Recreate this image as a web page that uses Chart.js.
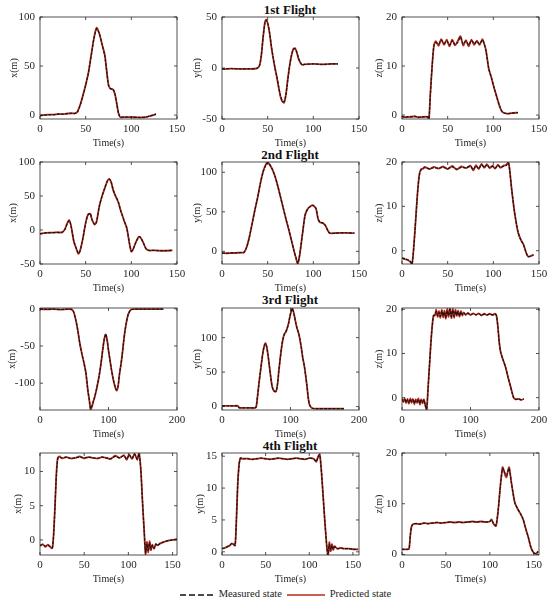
<!DOCTYPE html>
<html>
<head>
<meta charset="utf-8">
<script src="https://cdn.jsdelivr.net/npm/chart.js@4.4.0/dist/chart.umd.min.js"></script>
<style>
  body { margin: 0; background: #fff; }
  #wrap { position: relative; width: 550px; height: 604px; font-family: 'Liberation Serif', serif; color: #111; }
  .panel { position: absolute; width: 187px; height: 142px; }
  .ttl { position: absolute; left: 230px; width: 120px; text-align: center; font-size: 13px; font-weight: bold; }
  .leg { position: absolute; top: 588px; font-size: 10.5px; color: #222; white-space: nowrap; }
  .leg svg { vertical-align: middle; }
</style>
</head>
<body>
<div id="wrap">
  <div class="ttl" style="top:2px">1st Flight</div>
  <div class="ttl" style="top:147px">2nd Flight</div>
  <div class="ttl" style="top:292px">3rd Flight</div>
  <div class="ttl" style="top:438px">4th Flight</div>
  <div class="leg" style="left:180px">
    <svg width="36" height="6"><line x1="0" y1="3" x2="34" y2="3" stroke="#111" stroke-width="1.3" stroke-dasharray="6,3"/></svg>
    Measured state
  </div>
  <div class="leg" style="left:287px">
    <svg width="40" height="6"><line x1="0" y1="3" x2="38" y2="3" stroke="#b8281a" stroke-width="1.5"/></svg>
    Predicted state
  </div>
</div>
<script>
// tick labels
const ticksT150 = [0, 50, 100, 150];
const ticksT200 = [0, 100, 200];

// 1st flight
const f1xT = [0,5,10,15,20,25,30,35,38,41,44,47,50,53,56,59,62,65,68,71,73,75,77,80,82,84,86,88,92,100,110,116,120,124,127];
const f1xMeas = [-0.5,0,0.3,0.5,1,1,1.5,2,1.5,3,10,20,30,43,60,78,88,83,72,60,45,30,27,26.5,22,12,2,-2,-2,-2,-2.5,-2,-1,0,1];
const f1xPred = [-0.6,0.1,0.4,0.4,1.1,0.9,1.6,1.8,1.7,3.5,10.5,20,31,43,61,78,89,83,72,61,45,31,27,26,21.5,12,1.5,-2.2,-2,-2.1,-2.4,-2,-1.1,0,1];
const f1yT = [0,10,20,30,38,41,43,45,47,48.5,50,52,54,56,58,60,62,64,66,68,70,72,74,76,78,80,82,84,86,88,90,100,110,120,127];
const f1yMeas = [-1,-0.5,-1,-0.8,-0.5,2,12,30,44,47,44,35,22,10,0,-8,-18,-27,-32,-33,-26,-12,2,12,18,19,15,9,5,3,3.5,4,3.5,4,4];
const f1yPred = [-1.2,-0.6,-0.9,-0.9,-0.4,2.5,12,30,45,47.5,44,35,21,10,0,-9,-19,-28,-33,-34,-26,-11,2,12,18.5,19.5,15,8.5,5,3,3.6,4,3.6,4,4];
const f1zT = [0,3,6,10,14,18,22,26,28,29.5,31,33,35,37,40,43,46,49,52,55,58,61,64,67,70,73,76,79,82,85,88,90,92,95,98,101,104,107,110,115,120,127];
const f1zMeas = [-0.2,-0.5,-0.3,-0.4,-0.2,-0.5,-0.3,-0.4,-0.3,-0.7,4,10,14.3,14.8,14.5,15.3,14.6,15.1,14.3,15.2,14.4,14.8,15.9,14.5,15.1,14.3,15.2,14.6,15.0,14.5,15.3,14.6,13,9.5,7.5,5.5,3.5,1.8,0.6,0.3,0.4,0.5];
const f1zPred = [-0.3,-0.4,-0.4,-0.3,-0.3,-0.4,-0.4,-0.3,-0.4,-0.8,4.2,10,14.2,15.1,14.1,15.5,14.3,15.4,14.0,15.4,14.2,15.1,16.1,14.2,15.3,14.0,15.4,14.3,15.2,14.3,15.5,14.5,13.2,9.4,7.6,5.4,3.6,1.7,0.6,0.3,0.4,0.5];

// 2nd flight
const f2xT = [0,3,7,12,18,24,27,30,32,34,37,40,42,44,47,50,52.5,55,57,60,62,65,68,71,74,76,78,80,82,84,86,88,90,92,95,98,100,102,105,108,110,113,116,119,125,135,145];
const f2xMeas = [-5.4,-5,-4,-4,-3.5,-3.5,0,10,14,6,-16,-28,-34,-30,-12,10,22,24,15,8,12,35,50,62,72,75,70,60,52,47,40,30,22,14,3,-20,-31,-28,-18,-10,-11,-18,-27,-30,-30,-30.5,-30];
const f2xPred = [-5.6,-5,-4.2,-4,-3.6,-3.4,0.5,10.5,14.5,6,-16.5,-28.5,-35,-30,-12,10.5,22.5,24,15,8,13,35.5,50,62,73,75,70,59,52,46,40,30,22,14,3,-20.5,-32,-28,-18,-10,-11,-18.5,-27.5,-30,-30,-30.5,-30];
const f2yT = [0,5,10,15,20,24,27,30,33,36,39,42,45,48,50,52,55,58,61,64,67,70,73,76,79,81,83,85,88,91,94,97,99,101,103,105,107,110,113,116,118,125,135,145];
const f2yMeas = [-2,-2.5,-2,-2,-1.5,-1.5,5,18,35,52,68,86,100,109,112,110,104,95,83,69,55,41,28,14,0,-8,-15,-5,21,46,54,57,58,57,54,42,37,36,33,26,23,23,23.5,23];
const f2yPred = [-2.2,-2.4,-2.1,-2,-1.6,-1.4,5.5,18.5,35,52.5,68,86,101,110,112.5,110,104,95,83,69,55,41,28,14,0,-8.5,-15.5,-5,21,46,54,57,58.5,57,54,42,37,36,33,26,23,23.2,23.4,23];
const f2zT = [0,3,6,9,11,13,15,17,19,21,23,25,30,35,40,45,50,55,60,65,70,75,78,81,84,87,90,93,96,99,102,105,108,111,114,116.5,118,120,123,127,130,133,136,138,141,144];
const f2zMeas = [-1.7,-1.8,-2,-2.4,-3,1,7,13,17,18.3,18.6,18.7,18.5,18.7,18.6,18.8,18.5,18.9,18.4,18.8,18.7,19.0,18.3,19.1,18.5,19.4,18.8,19.3,18.7,19.0,18.6,19.2,18.8,19.0,19.2,19.8,18,14,9,4.2,2.5,1.4,-0.5,-1.3,-1.2,-0.9];
const f2zPred = [-1.6,-1.9,-2.1,-2.5,-3,1.2,7,13,17.2,18.4,18.5,18.9,18.4,18.9,18.5,19.0,18.4,19.1,18.3,19.0,18.6,19.2,18.1,19.3,18.4,19.6,18.7,19.5,18.6,19.2,18.5,19.4,18.7,19.2,19.3,19.9,18,14,9,4.2,2.5,1.4,-0.5,-1.3,-1.2,-0.9];

// 3rd flight
const f3xT = [0,10,20,30,40,46,49,52,55,58,61,64,67,70,72,74,76,78,80,83,86,89,92,94,96,98,100,102,104,107,110,112,114,116,118,120,122,124,126,128,130,133,140,160,180];
const f3xMeas = [-0.5,-0.8,-0.5,-1,-0.6,-0.8,-4,-14,-28,-46,-60,-72,-86,-110,-122,-134,-130,-124,-118,-106,-92,-74,-52,-40,-34,-42,-56,-68,-80,-95,-106,-109,-104,-88,-76,-62,-45,-30,-19,-10,-5,-1,-0.5,-0.5,-0.5];
const f3xPred = [-0.6,-0.7,-0.6,-1.1,-0.5,-0.8,-4,-14,-28,-46,-60,-72,-86,-111,-123,-136,-131,-124,-118,-106,-92,-74,-52,-40,-34.5,-42,-56,-68,-80,-95,-106,-110,-104,-88,-76,-62,-45,-30,-19,-10,-5,-1,-0.6,-0.5,-0.5];
const f3yT = [0,8,16,23,25,30,40,48,50,52,54,56,58,60,62,63.5,65,67,69,71,73,75,77,79,81,83,85,87,89,91,93,95,97,99,101,102.5,104,106,108,110,112,114,116,118,120,122,124,126,128,132,140,160,178];
const f3yMeas = [1,1.2,0.8,1,-1.5,-2,-1.8,-2,0,16,34,50,66,80,89,91,88,76,60,44,30,24,22,22,32,52,70,86,98,105,108,113,120,130,138,142,139,130,120,112,106,96,84,70,60,46,30,12,2,-2.5,-3,-3,-3];
const f3yPred = [1.1,1.1,0.9,1,-1.6,-2,-1.9,-2,0,16,34,50,66,80,89,92,88,76,60,44,30,24,22,22,32,52,70,86,98,105,108,113,120,130,138,142.5,139,130,120,112,106,96,84,70,60,46,30,12,2,-2.5,-3,-3,-3];
const f3zT = [0,2,4,6,8,10,12,14,16,18,20,22,24,26,28,30,32,34,36,38,40,42,44,46,48,50,52,54,56,58,60,62,64,66,68,70,72,74,76,78,80,82,84,86,88,90,93,96,100,104,108,112,116,120,124,128,132,136,138,140,142,144,147,151,155,158.5,161,163,166,170,174,178];
const f3zMeas = [-0.3,-0.8,-0.4,-1.0,-0.5,-1.1,-0.4,-0.9,-0.5,-1.2,-0.6,-0.9,-0.4,-1.3,-0.6,-1.0,-0.5,-1.6,-2.6,2,7,12,16,18.5,18.8,19.5,18.6,19.3,18.4,19.6,18.5,19.4,18.2,19.7,18.6,20,18.3,19.8,18.4,19.6,18.7,19.5,18.5,19.4,18.8,19.2,18.8,19.1,18.8,19.0,18.8,19.0,18.7,18.9,18.8,18.9,18.8,18.9,18.5,16,12.5,10.3,8.8,7,4.5,2.5,1,0,-0.4,-0.3,-0.5,-0.3];
const f3zPred = [-0.2,-1.0,-0.2,-1.3,-0.3,-1.4,-0.2,-1.2,-0.3,-1.5,-0.4,-1.2,-0.2,-1.6,-0.4,-1.3,-0.4,-1.8,-2.7,2,7,12,16,18.6,18.6,19.9,18.3,19.6,18.1,19.9,18.2,19.7,17.9,20.1,18.3,20.3,18.0,20.1,18.1,19.9,18.5,19.7,18.3,19.6,18.6,19.3,18.7,19.2,18.7,19.1,18.7,19.1,18.6,19.0,18.7,19.0,18.7,19.0,18.5,16,12.5,10.3,8.8,7,4.5,2.5,1,0,-0.4,-0.3,-0.5,-0.3];

// 4th flight
const f4xT = [0,3,6,9,12,14,15.5,17,18.5,20,22,25,30,35,40,45,50,55,60,65,70,75,80,85,90,95,98,101,104,107,110,112,114,116,118,119.5,121,122.5,124,125.5,127,129,131,133,136,140,145,150,155];
const f4xMeas = [-0.8,-0.7,-0.9,-0.8,-1.0,-1.1,1,5,9.5,11.8,12.1,12.0,12.1,11.9,12.0,12.1,12.0,12.1,12.0,11.9,12.1,12.0,11.9,12.2,12.0,12.3,11.8,12.4,11.9,12.5,11.8,12.6,10.4,5.5,1,-1.9,-0.6,-1.5,-0.4,-1.3,-0.8,-1.2,-0.6,-0.8,-0.5,-0.3,-0.1,0,0.1];
const f4xPred = [-0.9,-0.6,-1.0,-0.7,-1.1,-1.2,1,5,9.5,12,12.2,11.9,12.1,11.9,12.0,12.2,11.9,12.1,12.0,11.9,12.1,12.0,11.8,12.3,12.0,12.4,11.7,12.5,11.8,12.6,11.7,12.7,10.4,5.5,1,-2.2,-0.3,-1.8,-0.2,-1.5,-0.7,-1.3,-0.6,-0.8,-0.5,-0.3,-0.1,0,0.1];
const f4yT = [0,3,6,9,11,13,15,16.5,18,19.5,21,23,25,30,35,40,45,50,55,60,65,70,75,80,85,90,95,100,105,108,110,112,114,116,118,120,121.5,123,124.5,126,127.5,129,132,136,140,145,150,156];
const f4yMeas = [0.5,0.6,0.8,1.0,1.3,1.2,1.0,5,10.5,13.5,14.6,14.7,14.6,14.6,14.5,14.6,14.7,14.6,14.5,14.6,14.7,14.6,14.5,14.6,14.7,14.6,14.5,14.7,14.6,14.2,14.8,15.2,12.5,8.5,4.5,1,-0.5,1.2,0.3,1.0,0.4,0.8,0.5,0.6,0.5,0.5,0.4,0.4];
const f4yPred = [0.5,0.6,0.8,1.0,1.3,1.2,1.0,5,10.5,13.6,14.7,14.6,14.6,14.6,14.5,14.6,14.7,14.6,14.5,14.6,14.7,14.6,14.5,14.6,14.7,14.6,14.5,14.7,14.6,14.1,14.9,15.3,12.5,8.5,4.5,1,-0.7,1.5,0.1,1.2,0.3,0.9,0.5,0.6,0.5,0.5,0.4,0.4];
const f4zT = [0,3,6,8,9.5,11,13,16,20,25,30,35,40,45,50,55,60,65,70,75,80,85,90,95,100,102,104,107,109.6,112,114.5,116,117.5,119,120.5,122,124.7,128.5,132,135,138,141,143.5,147,150,153,155];
const f4zMeas = [1,1,1,1.1,3.8,5.6,6.0,6.1,6.0,6.2,6.1,6.2,6.3,6.2,6.3,6.4,6.3,6.4,6.3,6.4,6.5,6.4,6.5,6.4,6.5,6.8,6.2,5.7,8.9,13.5,17,16.5,16,15.6,16.3,17,14,10.2,8.9,8,6.9,5,3.6,1.3,0.3,0.2,0.6];
const f4zPred = [1,1,1,1.1,3.8,5.6,6.0,6.1,6.0,6.2,6.1,6.2,6.3,6.2,6.3,6.4,6.3,6.4,6.3,6.4,6.5,6.4,6.5,6.4,6.5,6.9,6.1,5.6,8.9,13.5,17.2,16.6,15.6,15.2,16.4,17.2,14,10.2,8.9,8,6.9,5,3.6,1.3,0.3,0.2,0.6];

// panel setup: data refs, axis ranges, placement
const colLeft = [40, 222, 402];
const rowTop = [17, 162, 308, 453];
const panels = [
  { r: 0, c: 0, t: f1xT, m: f1xMeas, p: f1xPred, lab: 'x(m)', xMax: 150, xt: ticksT150, yMin: -4, yMax: 100, yt: [0, 50, 100], lx: 8 },
  { r: 0, c: 1, t: f1yT, m: f1yMeas, p: f1yPred, lab: 'y(m)', xMax: 150, xt: ticksT150, yMin: -50, yMax: 50, yt: [-50, 0, 50], lx: 9 },
  { r: 0, c: 2, t: f1zT, m: f1zMeas, p: f1zPred, lab: 'z(m)', xMax: 150, xt: ticksT150, yMin: -0.8, yMax: 20, yt: [0, 10, 20], lx: 11 },
  { r: 1, c: 0, t: f2xT, m: f2xMeas, p: f2xPred, lab: 'x(m)', xMax: 150, xt: ticksT150, yMin: -50, yMax: 100, yt: [-50, 0, 50, 100], lx: 7 },
  { r: 1, c: 1, t: f2yT, m: f2yMeas, p: f2yPred, lab: 'y(m)', xMax: 150, xt: ticksT150, yMin: -16, yMax: 113, yt: [0, 50, 100], lx: 9 },
  { r: 1, c: 2, t: f2zT, m: f2zMeas, p: f2zPred, lab: 'z(m)', xMax: 150, xt: ticksT150, yMin: -3, yMax: 20, yt: [0, 10, 20], lx: 11 },
  { r: 2, c: 0, t: f3xT, m: f3xMeas, p: f3xPred, lab: 'x(m)', xMax: 200, xt: ticksT200, yMin: -136, yMax: 1, yt: [-100, -50, 0], lx: 6 },
  { r: 2, c: 1, t: f3yT, m: f3yMeas, p: f3yPred, lab: 'y(m)', xMax: 200, xt: ticksT200, yMin: -5, yMax: 143, yt: [0, 50, 100], lx: 9 },
  { r: 2, c: 2, t: f3zT, m: f3zMeas, p: f3zPred, lab: 'z(m)', xMax: 200, xt: ticksT200, yMin: -2.8, yMax: 20.3, yt: [0, 10, 20], lx: 11 },
  { r: 3, c: 0, t: f4xT, m: f4xMeas, p: f4xPred, lab: 'x(m)', xMax: 155, xt: ticksT150, yMin: -2.2, yMax: 12.7, yt: [0, 5, 10], lx: 12 },
  { r: 3, c: 1, t: f4yT, m: f4yMeas, p: f4yPred, lab: 'y(m)', xMax: 157, xt: ticksT150, yMin: -0.5, yMax: 15.5, yt: [0, 5, 10, 15], lx: 12 },
  { r: 3, c: 2, t: f4zT, m: f4zMeas, p: f4zPred, lab: 'z(m)', xMax: 156, xt: ticksT150, yMin: -0.1, yMax: 20, yt: [0, 10, 20], lx: 11 }
];

const ink = '#262626';
const tickFont = { family: "'Liberation Serif', serif", size: 11 };
const labFont = { family: "'Liberation Serif', serif", size: 10 };

// matlab-like box with inward ticks
const boxTicks = {
  id: 'boxTicks',
  afterDraw(chart) {
    const { ctx, chartArea: a, scales: { x, y } } = chart;
    ctx.save();
    ctx.strokeStyle = ink;
    ctx.lineWidth = 0.8;
    ctx.strokeRect(a.left, a.top, a.right - a.left, a.bottom - a.top);
    ctx.beginPath();
    x.ticks.forEach(t => {
      const px = x.getPixelForValue(t.value);
      ctx.moveTo(px, a.bottom); ctx.lineTo(px, a.bottom - 3);
      ctx.moveTo(px, a.top); ctx.lineTo(px, a.top + 3);
    });
    y.ticks.forEach(t => {
      const py = y.getPixelForValue(t.value);
      ctx.moveTo(a.left, py); ctx.lineTo(a.left + 3, py);
      ctx.moveTo(a.right, py); ctx.lineTo(a.right - 3, py);
    });
    ctx.stroke();
    ctx.restore();
  }
};

const wrap = document.getElementById('wrap');
panels.forEach(pn => {
  const div = document.createElement('div');
  div.className = 'panel';
  div.style.left = (colLeft[pn.c] - 40) + 'px';
  div.style.top = (rowTop[pn.r] - 8) + 'px';
  const cv = document.createElement('canvas');
  div.appendChild(cv);
  wrap.appendChild(div);

  new Chart(cv, {
    type: 'line',
    data: {
      datasets: [
        {
          label: 'Measured state',
          data: pn.t.map((v, i) => ({ x: v, y: pn.m[i] })),
          borderColor: '#151515',
          borderWidth: 1.2,
          borderDash: [3, 1.2],
          pointRadius: 0,
          tension: 0.25,
          order: 0
        },
        {
          label: 'Predicted state',
          data: pn.t.map((v, i) => ({ x: v, y: pn.p[i] })),
          borderColor: '#b8281a',
          borderWidth: 1.8,
          pointRadius: 0,
          tension: 0.25,
          order: 1
        }
      ]
    },
    options: {
      responsive: true,
      maintainAspectRatio: false,
      animation: false,
      layout: { padding: { top: 8, right: 10, left: 0, bottom: 0 } },
      plugins: { legend: { display: false }, tooltip: { enabled: false } },
      scales: {
        x: {
          type: 'linear',
          min: 0,
          max: pn.xMax,
          grid: { display: false, drawTicks: false },
          border: { display: false },
          ticks: { font: tickFont, color: ink, padding: 4, maxRotation: 0 },
          title: { display: true, text: 'Time(s)', font: labFont, color: ink, padding: { top: 0, bottom: 2 } },
          afterBuildTicks: s => { s.ticks = pn.xt.map(v => ({ value: v })); },
          afterFit: s => { s.height = 32; s.paddingLeft = 0; s.paddingRight = 0; }
        },
        y: {
          min: pn.yMin,
          max: pn.yMax,
          grid: { display: false, drawTicks: false },
          border: { display: false },
          ticks: { font: tickFont, color: ink, padding: 5 },
          title: { display: true, text: pn.lab, font: labFont, color: ink, padding: { top: pn.lx, bottom: 0 } },
          afterBuildTicks: s => { s.ticks = pn.yt.map(v => ({ value: v })); },
          afterFit: s => { s.width = 40; s.paddingTop = 0; s.paddingBottom = 0; }
        }
      }
    },
    plugins: [boxTicks]
  });
});
</script>
</body>
</html>
